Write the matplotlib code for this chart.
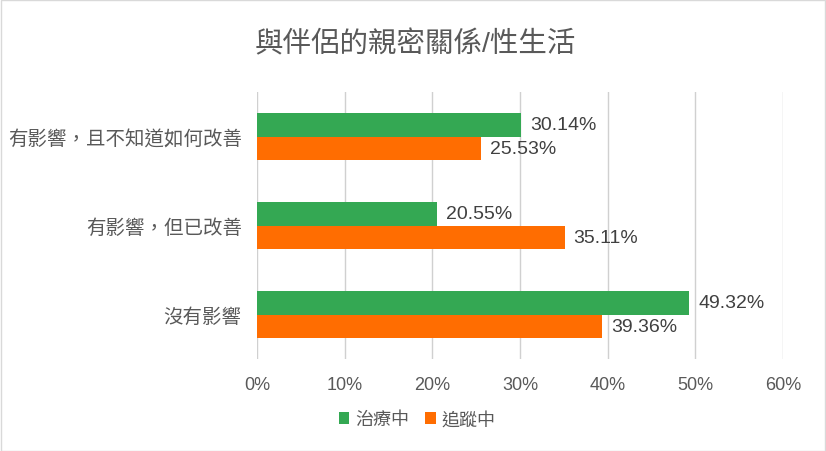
import matplotlib
matplotlib.use('Agg')
from matplotlib import pyplot as plt
from matplotlib.patches import Rectangle
import numpy as np

plt.rcParams['font.family'] = ['Liberation Sans', 'Noto Sans CJK TC']

categories = ['沒有影響', '有影響，但已改善', '有影響，且不知道如何改善']
treating = [49.32, 20.55, 30.14]   # 治療中
tracking = [39.36, 35.11, 25.53]   # 追蹤中
series_names = ['治療中', '追蹤中']
xticks = [0, 10, 20, 30, 40, 50, 60]

GREEN = '#34A853'
ORANGE = '#FF6D01'

fig = plt.figure(figsize=(8.26, 4.52), dpi=100)
ax = fig.add_axes([257/826, 1 - 360/452, (783 - 257)/826, (360 - 93)/452])

y = np.arange(len(categories))
h = 0.26
ax.barh(y + h/2, treating, height=h, color=GREEN, label=series_names[0], zorder=3)
ax.barh(y - h/2, tracking, height=h, color=ORANGE, label=series_names[1], zorder=3)

for yi, v in zip(y, treating):
    ax.text(v + 1.0, yi + h/2, f'{v:.2f}%', va='center', ha='left', fontsize=14, color='#404040')
for yi, v in zip(y, tracking):
    ax.text(v + 1.0, yi - h/2, f'{v:.2f}%', va='center', ha='left', fontsize=14, color='#404040')

ax.set_xlim(0, 60)
ax.set_ylim(-0.5, 2.5)
ax.set_xticks(xticks)
ax.set_xticklabels([f'{t}%' for t in xticks], fontsize=13, color='#595959')
ax.set_yticks(y)
ax.set_yticklabels(categories, fontsize=14, color='#595959')
ax.tick_params(axis='both', length=0, pad=11)
ax.tick_params(axis='x', pad=12)
ax.grid(axis='x', color='#D0D0D0', linewidth=1, zorder=0)
for s in ax.spines.values():
    s.set_visible(False)

fig.text(415/826, 1 - 45/452, '與伴侶的親密關係/性生活', ha='center', va='center',
         fontsize=20.5, color='#595959')

leg = fig.legend(loc='center', bbox_to_anchor=(417/826, 1 - 421/452), ncol=2, frameon=False,
                 fontsize=13, handlelength=0.6, handleheight=0.6, handletextpad=0.3,
                 columnspacing=0.9)
for t in leg.get_texts():
    t.set_color('#595959')

fig.patches.append(Rectangle((0.5/826, 0.5/452), 1 - 1.5/826, 1 - 1.5/452, transform=fig.transFigure,
                             fill=False, edgecolor='#D9D9D9', linewidth=1))

fig.savefig('out.png', dpi=100)
